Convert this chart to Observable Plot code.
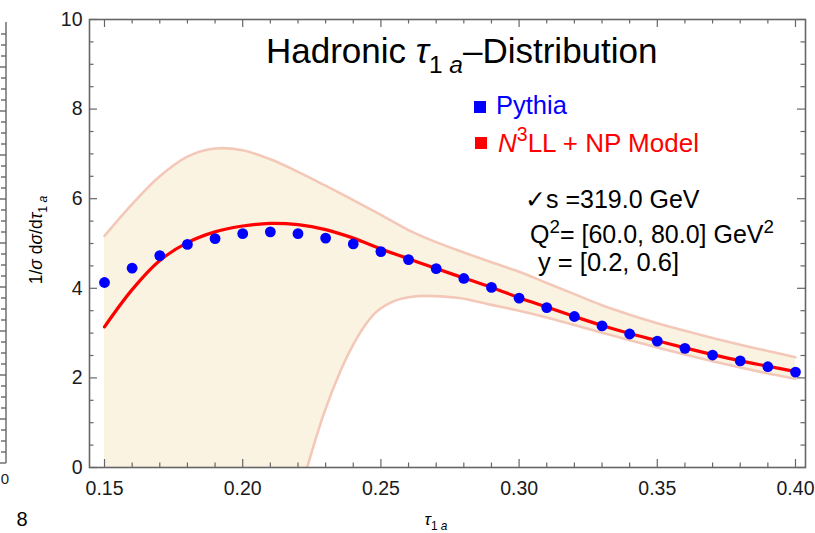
<!DOCTYPE html>
<html>
<head>
<meta charset="utf-8">
<script src="https://cdn.jsdelivr.net/npm/d3@7"></script>
<script src="https://cdn.jsdelivr.net/npm/@observablehq/plot@0.6"></script>
<style>
  html, body { margin: 0; padding: 0; background: #fff; }
  #wrap { position: relative; width: 815px; height: 533px; overflow: hidden; font-family: "Liberation Sans", Arial, sans-serif; }
  #wrap svg { position: absolute; left: 0; top: 0; }
</style>
</head>
<body>
<div id="wrap"></div>
<script>
// ---- data ----
const pythiaTau = [0.15,0.16,0.17,0.18,0.19,0.20,0.21,0.22,0.23,0.24,0.25,0.26,0.27,0.28,0.29,0.30,0.31,0.32,0.33,0.34,0.35,0.36,0.37,0.38,0.39,0.40];
const pythiaVal = [4.13,4.45,4.73,4.98,5.11,5.22,5.26,5.22,5.12,4.99,4.82,4.64,4.44,4.22,4.02,3.78,3.57,3.37,3.16,2.98,2.82,2.66,2.51,2.38,2.25,2.13];

const modelTau = [0.15,0.16,0.17,0.18,0.19,0.20,0.21,0.22,0.23,0.24,0.25,0.26,0.27,0.28,0.29,0.30,0.31,0.32,0.33,0.34,0.35,0.36,0.37,0.38,0.39,0.40];
const modelVal = [3.14,3.97,4.62,5.02,5.26,5.39,5.45,5.42,5.31,5.12,4.88,4.66,4.44,4.23,4.02,3.79,3.58,3.37,3.17,2.99,2.83,2.67,2.52,2.38,2.26,2.14];

const upperTau = [0.15,0.16,0.17,0.18,0.19,0.20,0.21,0.22,0.23,0.24,0.25,0.26,0.27,0.28,0.29,0.30,0.31,0.32,0.33,0.34,0.35,0.36,0.37,0.38,0.39,0.40];
const upperVal = [5.17,5.88,6.50,6.94,7.12,7.08,6.88,6.60,6.29,5.97,5.64,5.30,5.03,4.80,4.58,4.37,4.12,3.87,3.62,3.41,3.22,3.05,2.89,2.74,2.60,2.46];

const lowerTau = [0.2233,0.2293,0.2354,0.2414,0.2474,0.2535,0.26,0.2665,0.2776,0.29,0.30,0.31,0.32,0.33,0.34,0.35,0.36,0.37,0.38,0.39,0.40];
const lowerVal = [0,1.19,2.16,2.90,3.42,3.68,3.80,3.83,3.79,3.63,3.50,3.35,3.18,3.01,2.84,2.68,2.52,2.37,2.23,2.10,1.98];

const xMajor = [0.15,0.20,0.25,0.30,0.35,0.40];
const xMinor = [0.16,0.17,0.18,0.19,0.21,0.22,0.23,0.24,0.26,0.27,0.28,0.29,0.31,0.32,0.33,0.34,0.36,0.37,0.38,0.39];
const yMajor = [0,2,4,6,8,10];
const yMinor = [0.5,1,1.5,2.5,3,3.5,4.5,5,5.5,6.5,7,7.5,8.5,9,9.5];

// ---- layout ----
const W = 815, H = 533, mL = 89, mR = 10, mT = 19, mB = 66;
const pw = W - mL - mR, ph = H - mT - mB;
const majLen = 8, minLen = 4.5;
const frameCol = "#666";
const cream = "#faf3e1", edge = "#f4c8b8";
const FONT = "'Liberation Sans', Arial, sans-serif";

const pts = (xs, ys) => xs.map((t, i) => ({t, v: ys[i]}));
const pythia = pts(pythiaTau, pythiaVal);
const model = pts(modelTau, modelVal);
const upper = pts(upperTau, upperVal);
const lower = pts(lowerTau, lowerVal);

const chart = Plot.plot({
  width: W, height: H,
  marginLeft: mL, marginRight: mR, marginTop: mT, marginBottom: mB,
  style: {fontFamily: FONT, background: "transparent"},
  x: {domain: [0.14457, 0.40362]},
  y: {domain: [0, 10]},
  marks: [
    Plot.areaY(upper, {x: "t", y: "v", fill: cream, curve: "catmull-rom", clip: true}),
    Plot.areaY(lower, {x: "t", y: "v", fill: "white", curve: "monotone-x", clip: true}),
    Plot.line(upper, {x: "t", y: "v", stroke: edge, strokeWidth: 2.6, curve: "catmull-rom", clip: true}),
    Plot.line(lower, {x: "t", y: "v", stroke: edge, strokeWidth: 2.6, curve: "monotone-x", clip: true}),
    Plot.line(model, {x: "t", y: "v", stroke: "#ff0000", strokeWidth: 3.2, curve: "catmull-rom", clip: true}),
    Plot.dot(pythia, {x: "t", y: "v", r: 5.4, fill: "#0000ff", stroke: "none"}),
    // frame ticks (inward, all four sides)
    Plot.tickX(xMajor, {x: d => d, stroke: frameCol, strokeWidth: 1.2, insetTop: ph - majLen}),
    Plot.tickX(xMinor, {x: d => d, stroke: frameCol, strokeWidth: 1.2, insetTop: ph - minLen}),
    Plot.tickX(xMajor, {x: d => d, stroke: frameCol, strokeWidth: 1.2, insetBottom: ph - majLen}),
    Plot.tickX(xMinor, {x: d => d, stroke: frameCol, strokeWidth: 1.2, insetBottom: ph - minLen}),
    Plot.tickY(yMajor, {y: d => d, stroke: frameCol, strokeWidth: 1.2, insetRight: pw - majLen}),
    Plot.tickY(yMinor, {y: d => d, stroke: frameCol, strokeWidth: 1.2, insetRight: pw - minLen}),
    Plot.tickY(yMajor, {y: d => d, stroke: frameCol, strokeWidth: 1.2, insetLeft: pw - majLen}),
    Plot.tickY(yMinor, {y: d => d, stroke: frameCol, strokeWidth: 1.2, insetLeft: pw - minLen}),
    Plot.frame({stroke: frameCol, strokeWidth: 1.6}),
    Plot.axisX({ticks: xMajor, tickSize: 0, tickPadding: 14, fontSize: 19.5, tickFormat: d3.format(".2f"), label: null, fill: "#1a1a1a"}),
    Plot.axisY({ticks: yMajor, tickSize: 0, tickPadding: 7, fontSize: 19.5, tickFormat: d3.format("d"), label: null, fill: "#1a1a1a"})
  ]
});
document.getElementById("wrap").appendChild(chart);

// ---- rich text annotations ----
const svg = d3.select(chart);
function rich(x, y, parts, size, fill = "#000", anchor = "start", rotate = null) {
  const t = svg.append("text")
    .attr("x", x).attr("y", y)
    .attr("font-size", size).attr("fill", fill)
    .attr("text-anchor", anchor)
    .attr("font-family", FONT);
  if (rotate !== null) t.attr("transform", `rotate(${rotate},${x},${y})`);
  let cur = 0;
  for (const p of parts) {
    const s = p.sub ? 0.28 * size : p.sup ? -0.42 * size : 0;
    const ts = t.append("tspan").text(p.t);
    if (s - cur !== 0) ts.attr("dy", s - cur);
    cur = s;
    if (p.sub || p.sup) ts.attr("font-size", size * (p.small || 0.7));
    if (p.it) ts.attr("font-style", "italic");
    if (p.font) ts.attr("font-family", p.font);
  }
  return t;
}

// title
rich(266, 63, [{t: "Hadronic "}, {t: "τ", it: true}, {t: "1 ", sub: true}, {t: "a", sub: true, it: true}, {t: "–Distribution"}], 35);

// legend
svg.append("rect").attr("x", 474).attr("y", 101).attr("width", 12).attr("height", 12).attr("fill", "#0000ff");
rich(496, 114, [{t: "Pythia"}], 25.5, "#0000ff");
svg.append("rect").attr("x", 475).attr("y", 137).attr("width", 12).attr("height", 12).attr("fill", "#ff0000");
rich(498, 152, [{t: "N", it: true}, {t: "3", sup: true, small: 0.75}, {t: "LL + NP Model"}], 26, "#ff0000");

// kinematics
rich(525, 208, [{t: "✓", font: "'DejaVu Sans', sans-serif"}, {t: "s =319.0 GeV"}], 25);
rich(530, 243, [{t: "Q"}, {t: "2", sup: true, small: 0.75}, {t: "= [60.0, 80.0] GeV"}, {t: "2", sup: true, small: 0.75}], 25);
rich(538, 271, [{t: "y = [0.2, 0.6]"}], 25.5);

// axis labels
rich(42, 240, [{t: "1/"}, {t: "σ", it: true}, {t: " d"}, {t: "σ", it: true}, {t: "/d"}, {t: "τ", it: true}, {t: "1 ", sub: true}, {t: "a", sub: true, it: true}], 17.5, "#000", "middle", -90);
rich(436, 525, [{t: "τ", it: true}, {t: "1 ", sub: true}, {t: "a", sub: true, it: true}], 17, "#000", "middle");

// remnants of the neighbouring panel at the left edge
const rem = svg.append("g").attr("stroke", frameCol).attr("stroke-width", 1.4);
rem.append("line").attr("x1", 6).attr("x2", 6).attr("y1", 22).attr("y2", 463);
rem.append("line").attr("x1", 0).attr("x2", 6).attr("y1", 463).attr("y2", 463);
for (let yy = 463 - 11; yy > 24; yy -= 11) {
  rem.append("line").attr("x1", 6).attr("x2", (Math.round((463 - yy) / 11) % 4 === 0) ? -2 : 1).attr("y1", yy).attr("y2", yy);
}
svg.append("text").attr("x", 5).attr("y", 484).attr("font-size", 15).attr("fill", "#222").attr("font-family", FONT).text("0");
svg.append("text").attr("x", 22).attr("y", 526).attr("font-size", 20).attr("fill", "#000").attr("font-family", FONT).text("8");
</script>
</body>
</html>
